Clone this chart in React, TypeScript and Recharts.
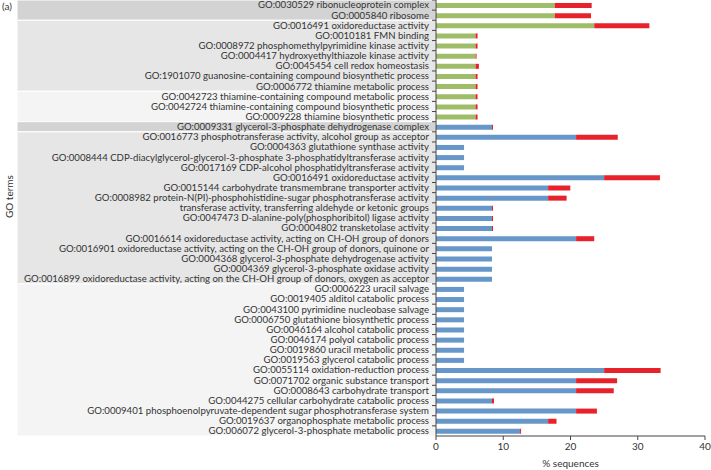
import React from 'react';
import { BarChart, Bar, Cell, XAxis, YAxis, ReferenceArea, Label } from 'recharts';

const termLabels: string[] = [
  'GO:0030529 ribonucleoprotein complex',
  'GO:0005840 ribosome',
  'GO:0016491 oxidoreductase activity',
  'GO:0010181 FMN binding',
  'GO:0008972 phosphomethylpyrimidine kinase activity',
  'GO:0004417 hydroxyethylthiazole kinase activity',
  'GO:0045454 cell redox homeostasis',
  'GO:1901070 guanosine-containing compound biosynthetic process',
  'GO:0006772 thiamine metabolic process',
  'GO:0042723 thiamine-containing compound metabolic process',
  'GO:0042724 thiamine-containing compound biosynthetic process',
  'GO:0009228 thiamine biosynthetic process',
  'GO:0009331 glycerol-3-phosphate dehydrogenase complex',
  'GO:0016773 phosphotransferase activity, alcohol group as acceptor',
  'GO:0004363 glutathione synthase activity',
  'GO:0008444 CDP-diacylglycerol-glycerol-3-phosphate 3-phosphatidyltransferase activity',
  'GO:0017169 CDP-alcohol phosphatidyltransferase activity',
  'GO:0016491 oxidoreductase activity',
  'GO:0015144 carbohydrate transmembrane transporter activity',
  'GO:0008982 protein-N(PI)-phosphohistidine-sugar phosphotransferase activity',
  'transferase activity, transferring aldehyde or ketonic groups',
  'GO:0047473 D-alanine-poly(phosphoribitol) ligase activity',
  'GO:0004802 transketolase activity',
  'GO:0016614 oxidoreductase activity, acting on CH-OH group of donors',
  'GO:0016901 oxidoreductase activity, acting on the CH-OH group of donors, quinone or',
  'GO:0004368 glycerol-3-phosphate dehydrogenase activity',
  'GO:0004369 glycerol-3-phosphate oxidase activity',
  'GO:0016899 oxidoreductase activity, acting on the CH-OH group of donors, oxygen as acceptor',
  'GO:0006223 uracil salvage',
  'GO:0019405 alditol catabolic process',
  'GO:0043100 pyrimidine nucleobase salvage',
  'GO:0006750 glutathione biosynthetic process',
  'GO:0046164 alcohol catabolic process',
  'GO:0046174 polyol catabolic process',
  'GO:0019860 uracil metabolic process',
  'GO:0019563 glycerol catabolic process',
  'GO:0055114 oxidation-reduction process',
  'GO:0071702 organic substance transport',
  'GO:0008643 carbohydrate transport',
  'GO:0044275 cellular carbohydrate catabolic process',
  'GO:0009401 phosphoenolpyruvate-dependent sugar phosphotransferase system',
  'GO:0019637 organophosphate metabolic process',
  'GO:006072 glycerol-3-phosphate metabolic process',
];

// first part of each bar (green or blue)
const baseValues: number[] = [
  17.65, 17.65, 23.53, 5.88, 5.88, 5.88, 5.88, 5.88, 5.88, 5.88, 5.88, 5.88,
  8.33, 20.83, 4.17, 4.17, 4.17, 25.0, 16.67, 16.67, 8.33, 8.33, 8.33, 20.83,
  8.33, 8.33, 8.33, 8.33,
  4.17, 4.17, 4.17, 4.17, 4.17, 4.17, 4.17, 4.17,
  25.0, 20.83, 20.83, 8.33, 20.83, 16.67, 12.5,
];

// red extension stacked on top
const redValues: number[] = [
  5.5, 5.4, 8.2, 0.3, 0.3, 0.15, 0.5, 0.3, 0.3, 0.3, 0.3, 0.3,
  0.15, 6.2, 0, 0, 0, 8.3, 3.3, 2.75, 0.15, 0.15, 0.15, 2.7,
  0, 0, 0, 0,
  0, 0, 0, 0, 0, 0, 0, 0,
  8.4, 6.1, 5.6, 0.3, 3.1, 1.25, 0.15,
];

const baseSeries: string[] = [
  ...Array(12).fill('green'),
  ...Array(31).fill('blue'),
];

const bandRanges = [
  { from: 0, to: 1, shade: 'dark' },
  { from: 2, to: 8, shade: 'mid' },
  { from: 9, to: 11, shade: 'light' },
  { from: 12, to: 12, shade: 'dark' },
  { from: 13, to: 27, shade: 'mid' },
  { from: 28, to: 42, shade: 'light' },
];

const xTicks = [0, 10, 20, 30, 40];

const COLORS: Record<string, string> = {
  green: '#9fbd68',
  blue: '#6796c9',
  red: '#e8222b',
};
const SHADES: Record<string, string> = { dark: '#d3d3d3', mid: '#e6e6e6', light: '#f4f4f4' };

const W = 711;
const H = 470;
const AXIS_X = 436;
const X_AXIS_H = 34;
const ROW_H = (H - X_AXIS_H) / termLabels.length;
const FONT = 'Lato, "Noto Sans", sans-serif';
const TEXT = '#333';

const rows = termLabels.map((label, i) => ({
  id: String(i),
  label,
  base: baseValues[i],
  red: redValues[i],
  series: baseSeries[i],
}));

const TermTick = (props: any) => {
  const { y, payload } = props;
  const label = termLabels[Number(payload.value)];
  const by = y - ROW_H / 2;
  return (
    <g>
      <text x={AXIS_X - 7} y={y} dy="0.35em" textAnchor="end" fontSize={9.6} fill={TEXT} fontFamily={FONT}>
        {label}
      </text>
      <line x1={AXIS_X - 4} x2={AXIS_X} y1={by} y2={by} stroke="#444" />
    </g>
  );
};

const App: React.FC = () => {
  return (
    <div style={{ position: 'absolute', left: 0, top: 0, width: W, height: H, background: '#fff', fontFamily: FONT }}>
      <div style={{ position: 'absolute', left: 2, top: 0, fontSize: 10, color: TEXT }}>(a)</div>
      <BarChart
        width={W}
        height={H}
        data={rows}
        layout="vertical"
        margin={{ top: 0, right: 6, bottom: 0, left: 0 }}
        barSize={5}
      >
        {bandRanges.map((b, i) => (
          <ReferenceArea
            key={i}
            y1={String(b.from)}
            y2={String(b.to)}
            x1={-62.3}
            x2={0}
            ifOverflow="visible"
            fill={SHADES[b.shade]}
            fillOpacity={1}
            stroke="#fff"
            strokeWidth={1}
          />
        ))}
        <XAxis
          type="number"
          domain={[0, 40]}
          ticks={xTicks}
          height={X_AXIS_H}
          tickSize={4}
          tickMargin={3}
          stroke="#444"
          tick={{ fontSize: 10, fill: TEXT, fontFamily: FONT }}
        >
          <Label value="% sequences" position="insideBottom" offset={3} fontSize={10} fill={TEXT} fontFamily={FONT} />
        </XAxis>
        <YAxis
          type="category"
          dataKey="id"
          width={AXIS_X}
          interval={0}
          tickLine={false}
          stroke="#444"
          tick={<TermTick />}
        >
          <Label value="GO terms" angle={-90} position="insideLeft" offset={9} fontSize={10} fill={TEXT} fontFamily={FONT} />
        </YAxis>
        <Bar dataKey="base" stackId="a" isAnimationActive={false}>
          {rows.map((r) => (
            <Cell key={r.id} fill={COLORS[r.series]} />
          ))}
        </Bar>
        <Bar dataKey="red" stackId="a" fill={COLORS.red} isAnimationActive={false} />
      </BarChart>
    </div>
  );
};

export default App;
